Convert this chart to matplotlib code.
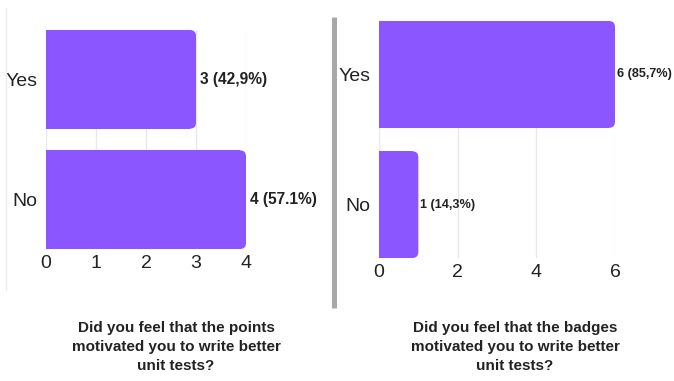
import matplotlib
matplotlib.use('Agg')
import matplotlib.pyplot as plt
from matplotlib.lines import Line2D
from matplotlib.patches import FancyBboxPatch

categories = ['Yes', 'No']
points_counts = [3, 4]
points_labels = ['3 (42,9%)', '4 (57.1%)']
badges_counts = [6, 1]
badges_labels = ['6 (85,7%)', '1 (14,3%)']
points_ticks = [0, 1, 2, 3, 4]
badges_ticks = [0, 2, 4, 6]
points_title = 'Did you feel that the points\nmotivated you to write better\nunit tests?'
badges_title = 'Did you feel that the badges\nmotivated you to write better\nunit tests?'

purple = '#8b55ff'
plt.rcParams['font.family'] = ['Liberation Sans', 'DejaVu Sans']

fig = plt.figure(figsize=(6.74, 3.81), dpi=100)
W, H = 674, 381


def px_axes(x0, y0, x1, y1):
    # pixel box (top-left origin) -> figure fraction axes
    return fig.add_axes([x0 / W, 1 - y1 / H, (x1 - x0) / W, (y1 - y0) / H])


def draw_panel(ax, box, counts, labels, ticks, xmax, bar_h, lab_size, lab_off):
    ypos = [1, 0]
    ax.set_xlim(0, xmax)
    ax.set_ylim(-bar_h / 2, 1 + bar_h / 2)
    # rounded right end: radius ~6 px
    px_x = (box[2] - box[0]) / xmax
    px_y = (box[3] - box[1]) / (1 + bar_h)
    rx = 6 / px_x
    for y, v in zip(ypos, counts):
        ax.barh(y, v - rx, height=bar_h, color=purple, zorder=2)
        ax.add_patch(FancyBboxPatch((0, y - bar_h / 2), v, bar_h,
                                    boxstyle='round,pad=0,rounding_size=%f' % rx,
                                    mutation_aspect=px_x / px_y,
                                    facecolor=purple, edgecolor='none', zorder=2))
    ax.set_xticks(ticks)
    ax.set_yticks(ypos)
    ax.set_yticklabels(categories)
    ax.tick_params(length=0, labelsize=14, colors='#222222', pad=6)
    ax.tick_params(axis='x', pad=4)
    ax.grid(axis='x', color='#e8e8e8', linewidth=1, zorder=0)
    ax.set_axisbelow(True)
    for s in ax.spines.values():
        s.set_visible(False)
    for y, v, t in zip(ypos, counts, labels):
        ax.annotate(t, (v, y), xytext=(lab_off, 0), textcoords='offset points',
                    ha='left', va='center', fontsize=lab_size,
                    fontweight='bold', color='#222222', annotation_clip=False)


box1 = (46, 30, 246, 249)
ax1 = px_axes(*box1)
draw_panel(ax1, box1, points_counts, points_labels, points_ticks, 4, 0.82, 11.2, 3)

box2 = (379, 21, 615, 258)
ax2 = px_axes(*box2)
draw_panel(ax2, box2, badges_counts, badges_labels, badges_ticks, 6, 0.82, 9.1, 1.3)

# left border and separator
fig.add_artist(Line2D([6 / W, 6 / W], [1 - 8 / H, 1 - 290 / H],
                      color='#ececec', linewidth=1))
fig.add_artist(Line2D([333.5 / W, 333.5 / W], [1 - 17 / H, 1 - 308 / H],
                      color='#a8a8a8', linewidth=3.6, solid_capstyle='butt'))

title_font = ['Liberation Sans Narrow', 'Liberation Sans', 'DejaVu Sans']
fig.text(176 / W, 1 - 347 / H, points_title, ha='center', va='center',
         fontsize=11, fontweight='bold', family=title_font,
         linespacing=1.45, color='#222222')
fig.text(515 / W, 1 - 347 / H, badges_title, ha='center', va='center',
         fontsize=11, fontweight='bold', family=title_font,
         linespacing=1.45, color='#222222')

plt.savefig('out.png', dpi=100)
